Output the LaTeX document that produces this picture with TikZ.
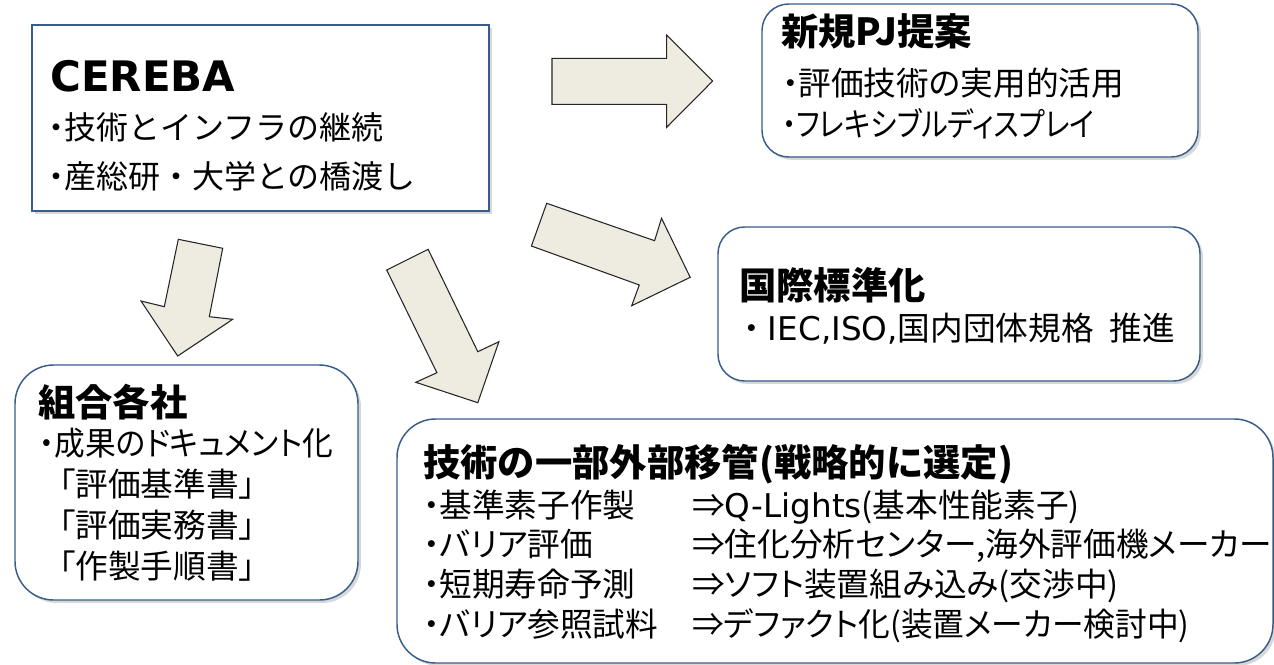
\documentclass[tikz,border=0pt]{standalone}
\usepackage{fontspec}
\setmainfont{Noto Sans CJK JP}
\newfontfamily\propfont{Noto Sans CJK JP}[RawFeature=+palt]
\newfontfamily\namefont{DejaVu Sans Bold}
\newfontfamily\latinfont{DejaVu Sans}
\newcommand\bul{{\propfont ・}}
\usetikzlibrary{shadows,fit}
\definecolor{boxblue}{HTML}{385D8A}
\definecolor{arrowfill}{HTML}{EEECE1}

\begin{document}
\begin{tikzpicture}[x=0.75pt,y=-0.75pt,
  sqbox/.style={draw=boxblue,line width=1.1pt,fill=white,inner sep=0pt,drop shadow={shadow xshift=2.2pt,shadow yshift=-2.2pt,opacity=0.3}},
  rbox/.style={sqbox,rounded corners=20pt},
  bigrbox/.style={sqbox,rounded corners=29pt},
  blockarrow/.style={fill=arrowfill,draw=black!85,line width=0.8pt,line join=miter},
  headtext/.style={anchor=base west,inner sep=0pt,font=\fontsize{28}{34}\selectfont\bfseries},
  cerebatext/.style={anchor=base west,inner sep=0pt,font=\fontsize{24}{29}\selectfont},
  bodytext/.style={anchor=base west,inner sep=0pt,font=\fontsize{24.5}{29}\propfont}]
\useasboundingbox (0,0) rectangle (1274,664);
\fill[white] (0,0) rectangle (1274,664);
\node[sqbox,fit={(32,25) (489,211)}] (cereba) {};
\node[rbox,fit={(762,4) (1198,157)}] (newpj) {};
\node[rbox,fit={(718,227) (1200,381)}] (intl) {};
\node[bigrbox,fit={(15,365) (358,600)}] (members) {};
\node[bigrbox,fit={(397,419) (1273,663)}] (transfer) {};
\filldraw[blockarrow] (552,58.3) -- (666.7,58.3) -- (666.7,35) -- (712.7,81) -- (666.7,127.3) -- (666.7,104.3) -- (552,104.3) -- cycle;
\filldraw[blockarrow] (178.3,239.3) -- (222.7,248.3) -- (209.3,316.7) -- (232.7,319.3) -- (177.7,356) -- (141,301) -- (164.3,306.7) -- cycle;
\filldraw[blockarrow] (386.7,270) -- (428.1,249.3) -- (477.8,351.7) -- (498.9,341.7) -- (477.8,402.7) -- (415.8,382.3) -- (436.9,372.7) -- cycle;
\filldraw[blockarrow] (546.7,203.3) -- (654.6,240.7) -- (661.5,218.3) -- (690.2,277.3) -- (631.7,305.7) -- (639.3,285) -- (531.4,246) -- cycle;
\node[anchor=base west,inner sep=0pt,font=\fontsize{31.5}{36}\namefont] (cerebaname) at (50,91.7) {CEREBA};
\node[cerebatext] (cereba1) at (48,139) {\bul 技術とインフラの継続};
\node[cerebatext] (cereba2) at (48,188) {\bul 産総研・大学との橋渡し};
\node[headtext] (newpjhead) at (781,45) {新規PJ提案};
\node[bodytext] (newpj1) at (782,95.5) {・評価技術の実用的活用};
\node[bodytext,xscale=0.86,transform shape] (newpj2) at (782,136) {・フレキシブルディスプレイ};
\node[headtext] (intlhead) at (739,299) {国際標準化};
\node[bodytext] (intl1) at (735,340) {{\rmfamily ・}{\latinfont IEC,ISO,}国内団体規格{\latinfont\ \,}推進};
\node[headtext] (membershead) at (38,416) {組合各社};
\node[bodytext,xscale=0.94,transform shape] (members1) at (39,455) {・成果のドキュメント化};
\node[bodytext] (members2) at (59,496) {「評価基準書」};
\node[bodytext] (members3) at (59,537) {「評価実務書」};
\node[bodytext] (members4) at (59,578) {「作製手順書」};
\node[headtext] (transferhead) at (423,476) {技術の一部外部移管(戦略的に選定)};
\node[bodytext] (item1) at (423,517) {・基準素子作製};
\node[bodytext] (item2) at (423,556) {・バリア評価};
\node[bodytext] (item3) at (423,596) {・短期寿命予測};
\node[bodytext] (item4) at (423,636) {・バリア参照試料};
\node[bodytext] (dest1) at (692,517) {⇒{\latinfont Q-Lights}(基本性能素子)};
\node[bodytext] (dest2) at (692,556) {⇒住化分析センター,海外評価機メーカー};
\node[bodytext] (dest3) at (692,596) {⇒ソフト装置組み込み(交渉中)};
\node[bodytext,xscale=0.97,transform shape] (dest4) at (692,636) {⇒デファクト化(装置メーカー検討中)};
\end{tikzpicture}
\end{document}
